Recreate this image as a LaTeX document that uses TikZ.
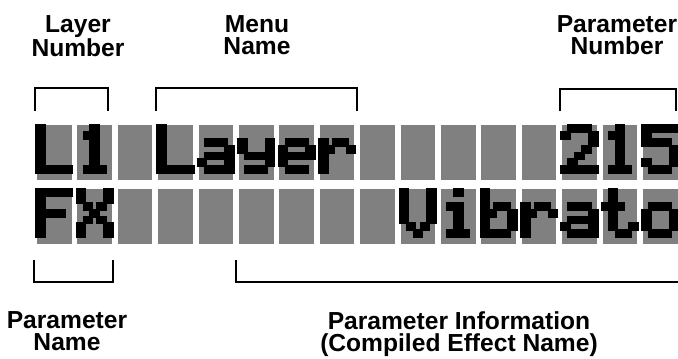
\documentclass[tikz,border=0pt]{standalone}
\usepackage{fontspec}
\setmainfont{Liberation Sans}

\tikzset{
  lcdcell/.style={fill=black!50},
  bracket/.style={line width=1.7pt},
  caption/.style={font=\bfseries\fontsize{21}{19}\selectfont, align=center, inner sep=0pt, anchor=north}
}

% dot-matrix characters, seven rows of five bits
\newcommand{\lcdL}{0b10000,0b10000,0b10000,0b10000,0b10000,0b10000,0b11111}
\newcommand{\lcdOne}{0b00100,0b01100,0b00100,0b00100,0b00100,0b00100,0b01110}
\newcommand{\lcdF}{0b11111,0b10000,0b10000,0b11110,0b10000,0b10000,0b10000}
\newcommand{\lcdX}{0b10001,0b10001,0b01010,0b00100,0b01010,0b10001,0b10001}
\newcommand{\lcda}{0b00000,0b00000,0b01110,0b00001,0b01111,0b10001,0b01111}
\newcommand{\lcdy}{0b00000,0b00000,0b10001,0b10001,0b01111,0b00001,0b01110}
\newcommand{\lcde}{0b00000,0b00000,0b01110,0b10001,0b11111,0b10000,0b01110}
\newcommand{\lcdr}{0b00000,0b00000,0b10110,0b11001,0b10000,0b10000,0b10000}
\newcommand{\lcdTwo}{0b01110,0b10001,0b00001,0b00010,0b00100,0b01000,0b11111}
\newcommand{\lcdFive}{0b11111,0b10000,0b11110,0b00001,0b00001,0b10001,0b01110}
\newcommand{\lcdV}{0b10001,0b10001,0b10001,0b10001,0b10001,0b01010,0b00100}
\newcommand{\lcdi}{0b00100,0b00000,0b01100,0b00100,0b00100,0b00100,0b01110}
\newcommand{\lcdb}{0b10000,0b10000,0b10110,0b11001,0b10001,0b10001,0b11110}
\newcommand{\lcdt}{0b01000,0b01000,0b11100,0b01000,0b01000,0b01001,0b00110}
\newcommand{\lcdo}{0b00000,0b00000,0b01110,0b10001,0b10001,0b10001,0b01110}

% #1 column, #2 line, #3 character
\newcommand{\lcdchar}[3]{%
  \foreach \bits [count=\by] in #3 {
    \foreach \bx in {1,...,5} {
      \pgfmathtruncatemacro{\pxon}{mod(floor(\bits/2^(5-\bx)),2)}
      \ifnum\pxon=1
        \fill ({37+40.4*#1+6.9*(\bx-1)-1.8},{125+64*#2+6.875*(\by-1)-1}) rectangle ++(10.5,8.9);
      \fi
    }
  }%
}

\begin{document}
\begin{tikzpicture}[x=0.03cm, y=-0.03cm]
  \useasboundingbox (0,0) rectangle (678,358);

  % Ô hiển thị
  \foreach \col in {0,...,15}
    \foreach \line in {0,1}
      \fill[lcdcell] (37+40.4*\col,125+64*\line) rectangle ++(34.5,55);

  % Dòng 1
  \lcdchar{0}{0}{\lcdL}
  \lcdchar{1}{0}{\lcdOne}
  \lcdchar{3}{0}{\lcdL}
  \lcdchar{4}{0}{\lcda}
  \lcdchar{5}{0}{\lcdy}
  \lcdchar{6}{0}{\lcde}
  \lcdchar{7}{0}{\lcdr}
  \lcdchar{13}{0}{\lcdTwo}
  \lcdchar{14}{0}{\lcdOne}
  \lcdchar{15}{0}{\lcdFive}

  % Dòng 2
  \lcdchar{0}{1}{\lcdF}
  \lcdchar{1}{1}{\lcdX}
  \lcdchar{9}{1}{\lcdV}
  \lcdchar{10}{1}{\lcdi}
  \lcdchar{11}{1}{\lcdb}
  \lcdchar{12}{1}{\lcdr}
  \lcdchar{13}{1}{\lcda}
  \lcdchar{14}{1}{\lcdt}
  \lcdchar{15}{1}{\lcdo}

  % Ngoặc
  \draw[bracket] (35,111) -- (35,88) -- (108,88) -- (108,111);
  \draw[bracket] (156,111) -- (156,88) -- (357,88) -- (357,111);
  \draw[bracket] (560,111) -- (560,89) -- (676,89) -- (676,111);
  \draw[bracket] (34,260) -- (34,282) -- (113,282) -- (113,260);
  \draw[bracket] (236,260) -- (236,282) -- (678,282);

  % Ghi nhãn
  \node[caption] (laynum) at (78,15) {Layer\\Number};
  \node[caption] (menuname) at (257,15) {Menu\\Name};
  \node[caption] (parnum) at (617,15) {Parameter\\Number};
  \node[caption] (parname) at (67,311) {Parameter\\Name};
  \node[caption] (parinfo) at (459,311) {Parameter Information\\(Compiled Effect Name)};
\end{tikzpicture}
\end{document}
